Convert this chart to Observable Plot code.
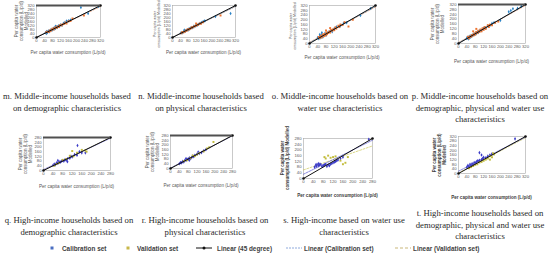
<!DOCTYPE html>
<html><head><meta charset="utf-8">
<script src="https://cdn.jsdelivr.net/npm/d3@7"></script>
<script src="https://cdn.jsdelivr.net/npm/@observablehq/plot@0.6"></script>
<style>
body{margin:0;background:#fff}
#fig{position:relative;width:550px;height:274px;overflow:hidden;background:#fff}
.abs{position:absolute;white-space:nowrap}
.cap{font-family:"Liberation Serif",serif;font-size:8.7px;color:#2a2a2a;text-align:center;line-height:11.5px;transform:translateX(-50%)}
.xl{font-family:"Liberation Sans",Arial,sans-serif;font-size:4.6px;color:#595959;transform:translateX(-50%)}
.yl{font-family:"Liberation Sans",Arial,sans-serif;font-size:4.5px;color:#595959;text-align:center;line-height:5px;transform:translate(-50%,-50%) rotate(-90deg)}
.yl.sm{font-size:3.6px;line-height:4.4px}
.b{font-weight:bold;color:#404040}
.leg{font-family:"Liberation Sans",Arial,sans-serif;font-size:6.4px;font-weight:bold;color:#404040;line-height:7px}
</style></head>
<body><div id="fig"></div>
<script>
// ---- data (observed vs modelled per capita consumption, L/p/d) ----
const ticks320 = [0,40,80,120,160,200,240,280,320];
const ticks280 = [0,40,80,120,160,200,240,280];

const mCal = [[45,48],[50,60],[55,50],[58,62],[62,66],[65,58],[70,75],[72,70],[78,82],[80,76],[85,92],[88,85],[92,98],[95,90],[100,108],[104,100],[110,118],[115,110],[120,128],[128,122],[135,142],[142,150],[150,165],[160,168],[170,175],[222,300],[258,240],[310,310],[50,40],[95,112]];
const mVal = [[48,52],[55,58],[60,55],[66,70],[70,64],[75,78],[80,88],[86,80],[90,94],[96,102],[100,95],[106,112],[112,105],[118,124],[125,120],[130,132],[138,136],[145,150],[150,140],[160,162],[170,165],[237,220],[180,190]];
const nCal = [[42,45],[48,50],[52,48],[58,60],[62,65],[66,62],[70,72],[75,78],[80,76],[84,88],[88,85],[92,95],[98,100],[102,98],[108,112],[114,110],[120,124],[126,122],[132,130],[140,142],[148,150],[156,160],[164,166],[218,210],[295,240],[60,75]];
const nVal = [[45,42],[50,55],[56,52],[62,58],[68,70],[72,68],[78,82],[82,80],[86,84],[92,90],[96,98],[100,104],[106,102],[112,116],[118,114],[124,128],[130,126],[138,140],[145,138],[155,152],[244,220],[120,140]];
const oCal = [[40,50],[45,40],[50,60],[55,48],[60,70],[65,55],[75,85],[80,70],[90,95],[100,105],[110,100],[120,125],[130,140],[150,150],[165,170],[180,175],[247,236],[296,295],[60,90],[50,75]];
const oVal = [[45,55],[50,45],[55,65],[60,52],[65,75],[70,62],[72,80],[78,68],[82,92],[85,78],[90,88],[95,100],[100,92],[105,115],[110,108],[115,120],[120,112],[125,135],[130,125],[140,150],[145,138],[150,160],[160,155],[170,180],[189,143],[100,130],[80,110],[210,200]];
const pCal = [[40,42],[42,50],[45,45],[48,38],[50,55],[52,48],[55,60],[58,52],[60,65],[65,62],[70,75],[75,72],[80,85],[85,82],[90,95],[95,90],[100,105],[110,108],[120,125],[130,128],[140,145],[150,148],[160,165],[170,172],[200,190],[240,260],[260,285],[282,288],[300,305],[250,270]];
const pVal = [[45,55],[50,42],[55,58],[60,55],[65,70],[70,65],[75,82],[80,72],[85,95],[90,85],[95,105],[100,95],[105,115],[110,100],[115,125],[120,112],[125,135],[130,120],[140,150],[145,135],[150,155],[160,150],[175,170],[190,180],[85,120],[70,100]];
const qCal = [[40,45],[45,55],[50,50],[55,65],[60,60],[65,75],[70,70],[75,80],[80,85],[85,80],[90,92],[95,88],[100,100],[110,105],[115,120],[120,115],[130,135],[140,130],[142,212],[150,160],[160,150],[175,150],[60,85],[100,75]];
const qVal = [[45,40],[55,55],[65,65],[80,90],[95,98],[110,125],[125,120],[140,150],[160,175],[175,170],[180,160],[120,165]];
const rCal = [[40,40],[45,50],[50,48],[55,60],[60,55],[65,70],[70,68],[75,78],[80,80],[85,90],[90,85],[95,92],[100,105],[105,100],[110,112],[120,122],[125,140],[130,128],[140,135],[150,150],[160,160],[70,85],[85,70]];
const rVal = [[60,62],[75,70],[90,88],[100,110],[110,105],[120,118],[130,130],[150,145],[165,170],[175,180],[194,225]];
const sCal = [[45,80],[50,95],[52,85],[55,100],[60,90],[62,105],[65,95],[70,100],[75,85],[80,90],[85,95],[90,100],[95,85],[100,95],[105,90],[110,100],[115,105],[120,110],[125,115],[130,120],[135,125],[140,130],[150,140],[160,150],[265,275]];
const sVal = [[85,150],[90,140],[100,160],[110,145],[120,150],[130,155],[160,100],[170,110],[180,150],[150,125]];
const tCal = [[40,55],[45,70],[50,60],[55,80],[60,70],[65,85],[70,75],[75,95],[80,90],[85,100],[90,110],[95,105],[100,115],[110,120],[115,130],[120,140],[130,135],[140,150],[150,160],[160,170],[270,300],[100,180],[110,160]];
const tVal = [[50,45],[60,55],[70,65],[80,75],[90,80],[100,95],[110,100],[120,110],[130,120],[140,130],[150,150],[160,140],[165,175],[170,165],[150,120]];

// trend fits [intercept, slope]
const calFits = {m:[3,0.98], n:[2,0.97], o:[6,0.96], p:[4,0.98], q:[8,0.95], r:[4,0.98], s:[30,0.85], t:[20,0.92]};
const valFits = {m:[5,0.95], n:[3,0.96], o:[10,0.93], p:[8,0.95], q:[4,0.98], r:[2,1.0], s:[60,0.6], t:[5,0.95]};

const captions = {
  m:["m. Middle-income households based","on demographic characteristics"],
  n:["n. Middle-income households based","on physical characteristics"],
  o:["o. Middle-income households based on","water use characteristics"],
  p:["p. Middle-income households based on","demographic, physical and water use","characteristics"],
  q:["q. High-income households based on","demographic characteristics"],
  r:["r. High-income households based on","physical characteristics"],
  s:["s. High-income based on water use","characteristics"],
  t:["t. High-income households based on","demographic, physical and water use","characteristics"]
};
const xLabel = "Per capita water consumption (L/p/d)";
const legendLabels = ["Calibration set","Validation set","Linear (45 degree)","Linear (Calibration set)","Linear (Validation set)"];

const mid = {cal:"#2b83c6", val:"#ee7430", cfit:"#2b83c6", vfit:"#ee7430"};
const high = {cal:"#3c3cc8", val:"#c3bd3e", cfit:"#3c3cc8", vfit:"#c3bd3e"};

// layout: frame rect [x0,y0,x1,y1], y-label centre x/y, x-label y, caption centre x / top y
const panels = [
 {id:"m",cal:mCal,val:mVal,max:320,ticks:ticks320,pal:mid,frame:[36,5,100,37],top:true,yl:["Per capita water","consumption (L/p/d)","Modelled"],ylx:21,yly:21,xly:50,cx:67,cy:91,bold:false},
 {id:"n",cal:nCal,val:nVal,max:320,ticks:ticks320,pal:mid,frame:[172,5,235,37],top:false,yl:["Per capita water","consumption (L/p/d) Modelled"],ylx:157,yly:24,xly:50,cx:201,cy:91,bold:false,sm:true},
 {id:"o",cal:oCal,val:oVal,max:320,ticks:ticks320,pal:mid,frame:[309,5,375,43],top:false,yl:["Per capita water","consumption (L/p/d) Modelled"],ylx:293,yly:26,xly:55,cx:340,cy:91,bold:false,sm:true},
 {id:"p",cal:pCal,val:pVal,max:320,ticks:ticks320,pal:mid,frame:[458,4,525,43],top:true,yl:["Per capita water","consumption (L/p/d)","Modelled"],ylx:437,yly:23.5,xly:59,cx:480,cy:91,bold:false},
 {id:"q",cal:qCal,val:qVal,max:280,ticks:ticks280,pal:high,frame:[43,137,110,170],top:true,yl:["Per capita water","consumption (L/p/d)","Modelled"],ylx:25,yly:153.5,xly:184,cx:69,cy:215,bold:false},
 {id:"r",cal:rCal,val:rVal,max:280,ticks:ticks280,pal:high,frame:[170,135,232,168],top:true,yl:["Per capita water","consumption (L/p/d)","Modelled"],ylx:152,yly:151.5,xly:183,cx:205,cy:215,bold:false},
 {id:"s",cal:sCal,val:sVal,max:280,ticks:ticks280,pal:high,frame:[303,138,372,178],top:false,yl:["Per capita water","consumption (L/p/d) Modelled"],ylx:285,yly:158,xly:193,cx:344,cy:215,bold:true},
 {id:"t",cal:tCal,val:tVal,max:320,ticks:ticks320,pal:high,frame:[458,136,525,173],top:false,yl:["Per capita water","consumption (L/p/d)","Modelled"],ylx:439,yly:154.5,xly:195,cx:480,cy:208,bold:true}
];

const fig = document.getElementById("fig");
function div(cls, html, left, top){
  const d=document.createElement("div"); d.className="abs "+cls; d.innerHTML=html;
  d.style.left=left+"px"; d.style.top=top+"px"; fig.appendChild(d); return d;
}

for (const p of panels){
  const [x0,y0,x1,y1]=p.frame;
  const ml=14, mt=3, mr=4, mb=9;
  const w=x1-x0+ml+mr, h=y1-y0+mt+mb;
  const diag=[[0,0],[p.max,p.max]];
  const cf=calFits[p.id], vf=valFits[p.id];
  const clip=f=>[0,p.max].map(x=>[x,f[0]+f[1]*x]).map(([x,y])=>y>p.max?[(p.max-f[0])/f[1],p.max]:[x,y]);
  const marks=[
    Plot.frame({stroke:"#a6a6a6",strokeWidth:0.6}),
    Plot.line(clip(vf),{x:d=>d[0],y:d=>d[1],stroke:p.pal.vfit,strokeWidth:0.6,strokeDasharray:"2,1.5"}),
    Plot.line(clip(cf),{x:d=>d[0],y:d=>d[1],stroke:p.pal.cfit,strokeWidth:0.6,strokeDasharray:"2,1"}),
    Plot.dot(p.cal,{x:d=>d[0],y:d=>d[1],r:1.1,fill:p.pal.cal,symbol:"diamond"}),
    Plot.dot(p.val,{x:d=>d[0],y:d=>d[1],r:1.1,fill:p.pal.val,symbol:"square"}),
    Plot.line(diag,{x:d=>d[0],y:d=>d[1],stroke:"#111",strokeWidth:1}),
    Plot.dot(diag,{x:d=>d[0],y:d=>d[1],r:1.3,fill:"#111"})
  ];
  if(p.top) marks.push(Plot.ruleY([p.max],{stroke:"#505050",strokeWidth:2}));
  const svg=Plot.plot({
    width:w,height:h,marginLeft:ml,marginRight:mr,marginTop:mt,marginBottom:mb,
    style:{fontSize:"4.2px",fontFamily:"Liberation Sans, Arial, sans-serif",color:"#595959",background:"transparent",overflow:"visible"},
    x:{domain:[0,p.max],ticks:p.ticks,tickSize:0,tickPadding:2,label:null},
    y:{domain:[0,p.max],ticks:p.ticks,tickSize:0,tickPadding:2,label:null},
    marks
  });
  svg.style.position="absolute"; svg.style.left=(x0-ml)+"px"; svg.style.top=(y0-mt)+"px";
  fig.appendChild(svg);
  div("xl"+(p.bold?" b":""), xLabel, (x0+x1)/2, p.xly);
  div("yl"+(p.bold?" b":"")+(p.sm?" sm":""), p.yl.join("<br>"), p.ylx, p.yly);
  div("cap", captions[p.id].join("<br>"), p.cx, p.cy);
}

// legend (HTML key, swatches match the marks above)
const items=[
  {x:52,kind:"dot",c:"#4a6fc2"},{x:128,kind:"dot",c:"#c8b84a"},
  {x:205,kind:"line",c:"#111"},{x:295,kind:"dash",c:"#8faadc"},{x:404,kind:"dash2",c:"#c9b77a"}
];
const tx=[62,137,217,304,413];
items.forEach((it,i)=>{
  if(it.kind==="dot") div("leg",'<svg width="4" height="4" style="display:block"><rect x="0.5" y="0.5" width="3" height="3" fill="'+it.c+'"/></svg>',it.x-2,246);
  else {
    const dash = it.kind==="dash"?"2,1":it.kind==="dash2"?"3,2":"";
    div("leg",'<svg width="17" height="6" style="display:block"><line x1="0" y1="3" x2="16" y2="3" stroke="'+it.c+'" stroke-width="1" '+(dash?'stroke-dasharray="'+dash+'"':'')+'/>'+(it.kind==="line"?'<circle cx="8" cy="3" r="1.5" fill="#111"/>':'')+'</svg>',it.x-9,245);
  }
  div("leg",legendLabels[i],tx[i],244.5);
});
</script>
</body></html>
